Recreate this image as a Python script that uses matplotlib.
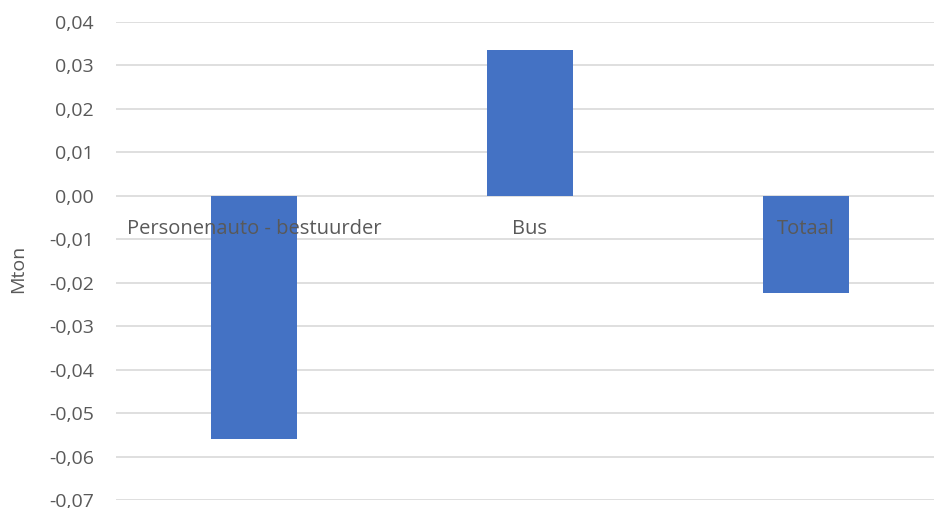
import matplotlib.pyplot as plt
from matplotlib.ticker import FuncFormatter
import matplotlib.transforms as mtransforms

categories = ['Personenauto - bestuurder', 'Bus', 'Totaal']
values = [-0.056, 0.0336, -0.0223]
yticks = [0.04, 0.03, 0.02, 0.01, 0.0, -0.01, -0.02, -0.03, -0.04, -0.05, -0.06, -0.07]

plt.rcParams['font.family'] = ['Open Sans', 'DejaVu Sans']

fig = plt.figure(figsize=(9.34, 5.08), dpi=100)
# plot area continues past the right edge, as in the reference
ax = fig.add_axes([116 / 934, 8 / 508, 828 / 934, 478 / 508])

x = list(range(len(categories)))
ax.bar(x, values, width=0.31, color='#4472C4', zorder=2)

ax.set_xlim(-0.5, len(categories) - 0.5)
ax.set_ylim(-0.07, 0.04)
ax.set_yticks(yticks)
ax.yaxis.set_major_formatter(FuncFormatter(lambda v, p: f'{v:.2f}'.replace('.', ',').replace('-0,00', '0,00')))
ax.tick_params(axis='y', length=0, pad=16, labelsize=14, labelcolor='#595959')
ax.set_xticks([])
ax.grid(axis='y', color='#D9D9D9', linewidth=1.2, zorder=0)
ax.set_axisbelow(True)
for s in ax.spines.values():
    s.set_visible(False)

offset = mtransforms.offset_copy(ax.transData, fig=fig, x=0, y=-33, units='dots')
for xi, name in zip(x, categories):
    ax.text(xi, 0, name, transform=offset, ha='center', va='center',
            fontsize=14.5, color='#595959', zorder=3)

ax.set_ylabel('Mton', fontsize=14, color='#595959')
ax.yaxis.set_label_coords(-0.107, 0.483)

fig.savefig('out.png', dpi=100)
